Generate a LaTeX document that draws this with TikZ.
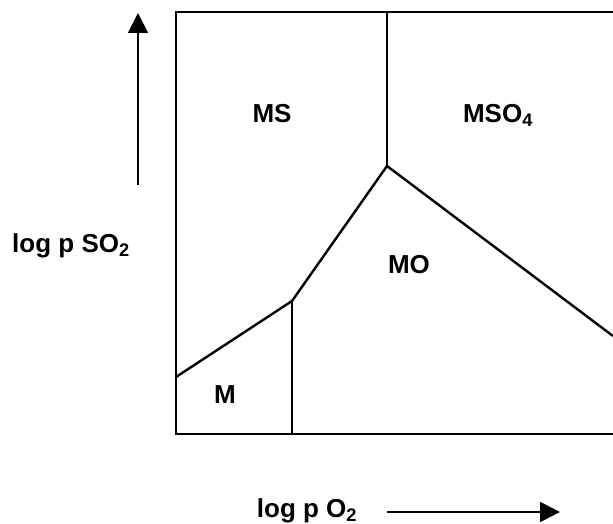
\documentclass[tikz,border=0pt]{standalone}
\usepackage{fontspec}
\setmainfont{Liberation Sans}
\usetikzlibrary{arrows.meta}

\tikzset{
    etiqueta/.style={anchor=base, inner sep=0pt, font=\bfseries\fontsize{26}{30}\selectfont},
    frontera/.style={-, black, line width=2.4pt},
    eje/.style={-{Triangle[length=20pt, width=20pt]}, black, line width=1.8pt}
}

\begin{document}
\begin{tikzpicture}[x=1pt, y=-1pt]
            \useasboundingbox (0,0) rectangle (613,524);

            %Caja
            \draw[-, black, line width=2.8pt] (613,12) -- (176,12) -- (176,434) -- (613,434);

            %Puntos triples
            \coordinate(izq) at (176,377);
            \coordinate(p1) at (292,301);
            \coordinate(p2) at (387,166);
            \coordinate(inf1) at (292,434);
            \coordinate(sup2) at (387,12);
            \coordinate(der) at (613,336);

            %Lineas
            \draw[frontera] (izq) -- (p1) -- (p2) -- (der);
            \draw[frontera] (p1) -- (inf1);
            \draw[frontera] (p2) -- (sup2);

            %Regiones
            \node(ms) at (272,123) [etiqueta] {MS};
            \node(mso4) at (498,123) [etiqueta] {MSO\textsubscript{4}};
            \node(mo) at (409,273) [etiqueta] {MO};
            \node(m) at (225,403) [etiqueta] {M};

            %Ejes
            \node(yl) at (71,252) [etiqueta] {log p SO\textsubscript{2}};
            \node(xl) at (307,517) [etiqueta] {log p O\textsubscript{2}};
            \coordinate(y0) at (138,185);
            \coordinate(y1) at (138,13);
            \coordinate(x0) at (387,512);
            \coordinate(x1) at (560,512);
            \draw[eje] (y0) -- (y1);
            \draw[eje] (x0) -- (x1);
        \end{tikzpicture}
\end{document}
